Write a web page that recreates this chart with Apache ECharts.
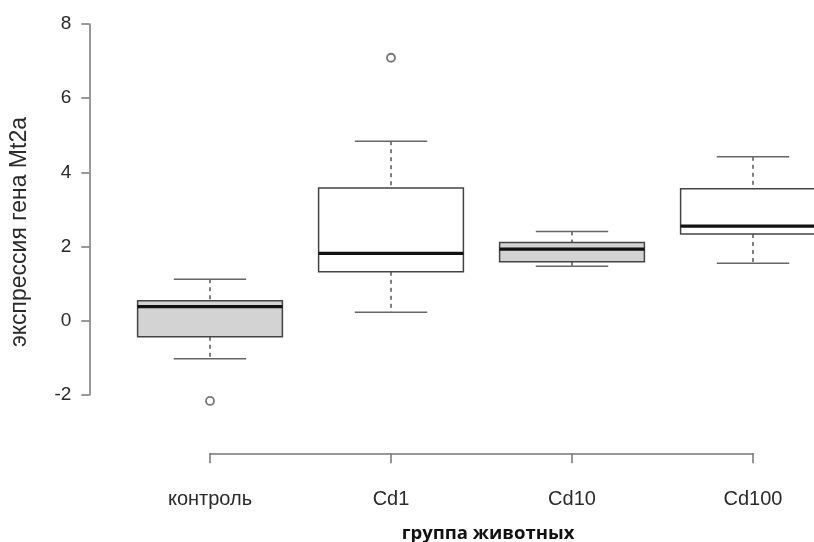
<!DOCTYPE html>
<html>
<head>
<meta charset="utf-8">
<script src="https://cdn.jsdelivr.net/npm/echarts@6/dist/echarts.min.js"></script>
<style>
  html, body { margin: 0; padding: 0; background: #fff; }
  #chart { width: 814px; height: 542px; }
</style>
</head>
<body>
<div id="chart"></div>
<script>
const groups = ["контроль", "Cd1", "Cd10", "Cd100"];
const lowerWhisker = [-1.02, 0.23, 1.47, 1.55];
const q1 = [-0.43, 1.32, 1.59, 2.34];
const medians = [0.38, 1.82, 1.93, 2.55];
const q3 = [0.54, 3.58, 2.11, 3.56];
const upperWhisker = [1.12, 4.84, 2.41, 4.42];
const outlierGroup = [0, 1];
const outlierValue = [-2.16, 7.09];
const yMin = -2;
const yMax = 8;
const yStep = 2;

const boxFill = ["#d3d3d3", "#ffffff", "#d3d3d3", "#ffffff"];
const font = "'Liberation Sans', Arial, Helvetica, sans-serif";

const boxData = groups.map((g, i) => [i, lowerWhisker[i], q1[i], medians[i], q3[i], upperWhisker[i]]);
const outlierData = outlierGroup.map((g, i) => [g, outlierValue[i]]);

function renderBox(params, api) {
  const x = api.value(0);
  const band = api.size([1, 0])[0];
  const half = band * 0.4;
  const cap = band * 0.2;
  const lo = api.coord([x, api.value(1)]);
  const b1 = api.coord([x, api.value(2)]);
  const md = api.coord([x, api.value(3)]);
  const b3 = api.coord([x, api.value(4)]);
  const hi = api.coord([x, api.value(5)]);
  const cx = lo[0];
  const dashed = { stroke: "#555", lineWidth: 1.5, lineDash: [4, 4] };
  const solid = { stroke: "#666", lineWidth: 1.5 };
  return {
    type: "group",
    children: [
      { type: "line", shape: { x1: cx, y1: hi[1], x2: cx, y2: b3[1] }, style: dashed },
      { type: "line", shape: { x1: cx, y1: b1[1], x2: cx, y2: lo[1] }, style: dashed },
      { type: "line", shape: { x1: cx - cap, y1: hi[1], x2: cx + cap, y2: hi[1] }, style: solid },
      { type: "line", shape: { x1: cx - cap, y1: lo[1], x2: cx + cap, y2: lo[1] }, style: solid },
      {
        type: "rect",
        shape: { x: cx - half, y: b3[1], width: half * 2, height: b1[1] - b3[1] },
        style: { fill: boxFill[params.dataIndex], stroke: "#444", lineWidth: 1.5 }
      },
      { type: "line", shape: { x1: cx - half, y1: md[1], x2: cx + half, y2: md[1] }, style: { stroke: "#111", lineWidth: 3.2 } }
    ]
  };
}

const chart = echarts.init(document.getElementById("chart"));

chart.setOption({
  animation: false,
  backgroundColor: "#fff",
  grid: [
    { left: 210, width: 543, top: 24, height: 371 },
    { left: 210, width: 543, top: 453, height: 1 }
  ],
  xAxis: [
    { type: "category", gridIndex: 0, data: groups, boundaryGap: false, show: false },
    {
      type: "category",
      gridIndex: 1,
      data: groups,
      boundaryGap: false,
      axisLine: { lineStyle: { color: "#777", width: 1.5 } },
      axisTick: { length: 10, interval: 0, lineStyle: { color: "#777", width: 1.5 } },
      axisLabel: { interval: 0, margin: 36, color: "#2a2a2a", fontSize: 20, fontFamily: font },
      name: "группа животных",
      nameLocation: "middle",
      nameGap: 71,
      nameTextStyle: {
        color: "#111",
        fontSize: 18.5,
        fontWeight: "bold",
        fontFamily: "'Open Sans', 'Noto Sans', sans-serif",
        padding: [0, 0, 0, 13]
      }
    }
  ],
  yAxis: [
    {
      type: "value",
      gridIndex: 0,
      min: yMin,
      max: yMax,
      interval: yStep,
      offset: 120.7,
      splitLine: { show: false },
      axisLine: { show: true, lineStyle: { color: "#777", width: 1.5 } },
      axisTick: { show: true, length: 8, lineStyle: { color: "#777", width: 1.5 } },
      axisLabel: { margin: 18, color: "#2a2a2a", fontSize: 19, fontFamily: font }
    },
    { type: "value", gridIndex: 1, show: false }
  ],
  graphic: [
    {
      type: "text",
      x: 20,
      y: 232,
      rotation: Math.PI / 2,
      style: {
        text: "экспрессия гена Mt2a",
        fill: "#2a2a2a",
        font: "23px " + font,
        align: "center",
        verticalAlign: "middle"
      }
    }
  ],
  series: [
    {
      type: "custom",
      xAxisIndex: 0,
      yAxisIndex: 0,
      renderItem: renderBox,
      encode: { x: 0, y: [1, 2, 3, 4, 5] },
      data: boxData,
      clip: false
    },
    {
      type: "scatter",
      xAxisIndex: 0,
      yAxisIndex: 0,
      symbol: "circle",
      symbolSize: 8,
      itemStyle: { color: "#ffffff", borderColor: "#555", borderWidth: 1.8 },
      data: outlierData,
      clip: false,
      z: 5
    }
  ]
});
</script>
</body>
</html>
